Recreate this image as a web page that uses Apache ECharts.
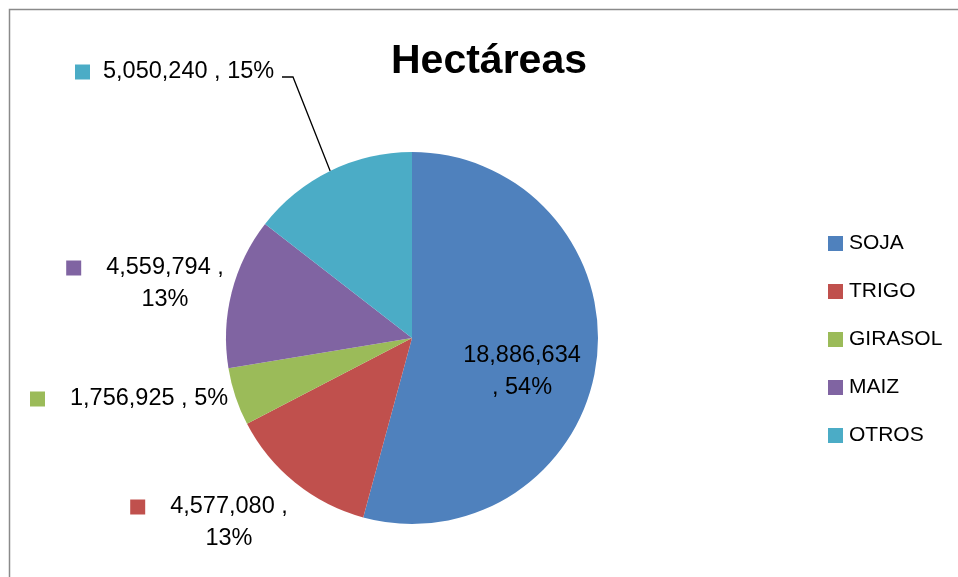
<!DOCTYPE html>
<html><head><meta charset="utf-8">
<script src="https://cdn.jsdelivr.net/npm/echarts@6/dist/echarts.min.js"></script>
<style>html,body{margin:0;padding:0;background:#fff}#c{width:958px;height:577px}</style>
</head><body><div id="c"></div>
<script>
const categories = ['SOJA', 'TRIGO', 'GIRASOL', 'MAIZ', 'OTROS'];
const hectares = [18886634, 4577080, 1756925, 4559794, 5050240];
const colors = ['#4F81BD', '#C0504D', '#9BBB59', '#8064A2', '#4BACC6'];
const titleText = 'Hectáreas';

// label placement (layout only)
const labelPlace = {
  SOJA:    {x: 522, y: 372, align: 'center', wrap: true,  key: false},
  TRIGO:   {x: 209, y: 523, align: 'center', wrap: true,  key: true, gap: 25},
  GIRASOL: {x: 30,  y: 399, align: 'left',   wrap: false, key: true, gap: 25},
  MAIZ:    {x: 145, y: 284, align: 'center', wrap: true,  key: true, gap: 25},
  OTROS:   {x: 75,  y: 72,  align: 'left',   wrap: false, key: true, gap: 13, line: [[293, 77], [282, 77]]}
};

const FONT = '"Liberation Sans", Arial, sans-serif';
const rich = {
  t: {fontSize: 23.5, fontFamily: FONT, color: '#000', lineHeight: 32},
  g13: {width: 13, height: 15},
  g25: {width: 25, height: 15},
  s13: {width: 28, height: 15},
  s25: {width: 40, height: 15}
};
colors.forEach((c, i) => { rich['k' + i] = {width: 15, height: 15, backgroundColor: c}; });

function fmt(p) {
  const a = labelPlace[p.name];
  const v = echarts.format.addCommas(p.value);
  const pc = p.percent + '%';
  if (!a.key) return `{t|${v}}\n{t|, ${pc}}`;
  const k = `{k${p.dataIndex}|}{g${a.gap}|}`;
  if (a.wrap) return `${k}{t|${v} ,}\n{s${a.gap}|}{t|${pc}}`;
  return `${k}{t|${v} , ${pc}}`;
}

const chart = echarts.init(document.getElementById('c'));
chart.setOption({
  animation: false,
  color: colors,
  graphic: [{
    type: 'rect', silent: true,
    shape: {x: 9.5, y: 9.5, width: 1200, height: 1200},
    style: {fill: 'none', stroke: '#8a8a8a', lineWidth: 1.5}
  }],
  title: {
    text: titleText, left: 391, top: 41, padding: 0,
    textStyle: {fontSize: 41, fontWeight: 'bold', fontFamily: FONT, color: '#000'}
  },
  legend: {
    orient: 'vertical', left: 828, top: 233, padding: 0,
    data: categories, icon: 'rect', itemWidth: 15, itemHeight: 15, itemGap: 27,
    textStyle: {fontSize: 21, fontFamily: FONT, color: '#000', padding: [0, 0, 0, 1]}
  },
  series: [{
    type: 'pie',
    center: [412, 338], radius: 186,
    startAngle: 90, clockwise: true,
    percentPrecision: 0,
    avoidLabelOverlap: false,
    label: {show: true, position: 'outside', formatter: fmt, rich: rich},
    labelLine: {show: false, lineStyle: {color: '#000', width: 1.3}},
    labelLayout: function (params) {
      const a = labelPlace[categories[params.dataIndex]];
      const r = {x: a.x, y: a.y, align: a.align, verticalAlign: 'middle'};
      if (a.line && params.labelLinePoints) {
        r.labelLinePoints = [params.labelLinePoints[0], a.line[0], a.line[1]];
      }
      return r;
    },
    emphasis: {disabled: true},
    data: categories.map((n, i) => ({
      name: n, value: hectares[i],
      labelLine: {show: n === 'OTROS'}
    }))
  }]
});
</script>
</body></html>
